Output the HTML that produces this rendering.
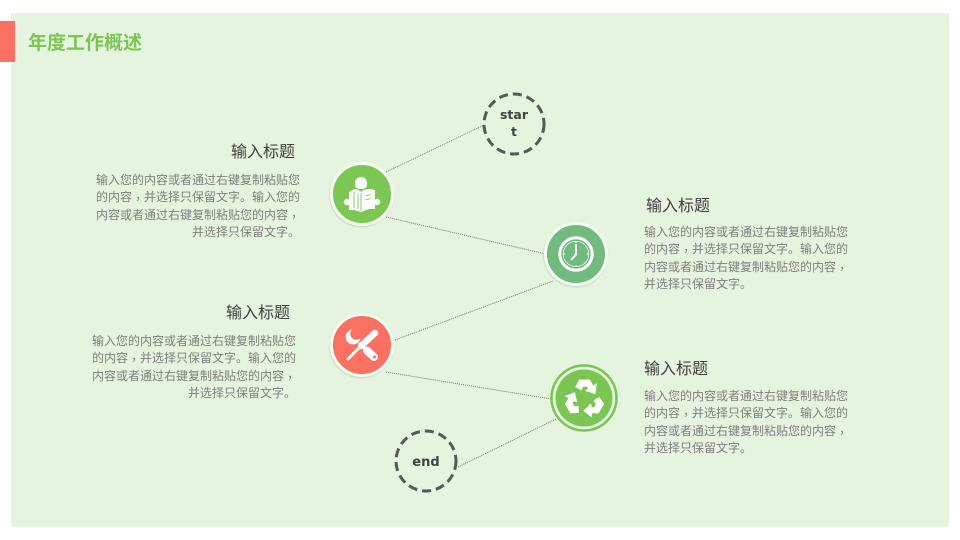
<!DOCTYPE html>
<html>
<head>
<meta charset="utf-8">
<style>
html,body{margin:0;padding:0;background:#fff}
#s{position:relative;width:960px;height:540px;overflow:hidden;background:#fff;font-family:"Liberation Sans","Noto Sans CJK SC","WenQuanYi Zen Hei",sans-serif}
.p{position:absolute;left:11px;top:13px;width:938px;height:514px;background:#e5f4de}
.b{position:absolute;left:0;top:21px;width:15px;height:41px;background:#f87163}
.t{position:absolute;left:28px;top:30px;font-size:19px;line-height:28px;font-weight:bold;color:#7bc653;white-space:nowrap}
.h{position:absolute;font-size:16px;line-height:20px;color:#404040;white-space:nowrap}
.d{position:absolute;width:210px;font-size:12px;line-height:17.4px;color:#7f7f7f;white-space:nowrap}
.d i{font-style:normal;font-family:"Noto Sans CJK TC",sans-serif;position:relative;top:2px;line-height:0}
.r{text-align:right}
svg{position:absolute;left:0;top:0}
</style>
</head>
<body>
<div id="s">
<div class="p"></div>
<div class="b"></div>
<div class="t">年度工作概述</div>

<svg width="960" height="540" viewBox="0 0 960 540">
<defs>
<filter id="sh" x="-20%" y="-20%" width="140%" height="140%"><feDropShadow dx="-0.5" dy="1" stdDeviation="0.8" flood-color="#000" flood-opacity="0.15"/></filter>
<path id="ra" d="M-8.500 -11L-5 -18L5 -18L8 -12.500L11.500 -14.500L10 -4.500L0.500 -7.500L3.500 -9.500L2 -11.500L-1 -11.500L-3 -8Z"/>
</defs>
<g stroke="#6f7f6a" stroke-width="1" stroke-dasharray="1 1" fill="none">
<line x1="386" y1="172" x2="484" y2="125"/>
<line x1="386" y1="217" x2="546" y2="254"/>
<line x1="395" y1="340" x2="553" y2="281"/>
<line x1="386" y1="372" x2="551" y2="399"/>
<line x1="458" y1="467" x2="556" y2="419"/>
</g>

<circle cx="514" cy="124" r="30" fill="none" stroke="#555a55" stroke-width="3" stroke-dasharray="9 5"/>
<circle cx="426" cy="461" r="30" fill="none" stroke="#555a55" stroke-width="3" stroke-dasharray="9 5"/>
<text x="514" y="119" text-anchor="middle" font-family="'DejaVu Sans',sans-serif" font-size="12.500" font-weight="bold" fill="#3f4440">star</text>
<text x="514" y="136" text-anchor="middle" font-family="'DejaVu Sans',sans-serif" font-size="12.500" font-weight="bold" fill="#3f4440">t</text>
<text x="426" y="466" text-anchor="middle" font-family="'DejaVu Sans',sans-serif" font-size="13" font-weight="bold" fill="#3f4440">end</text>

<circle cx="362" cy="194" r="30.500" fill="#7bc653" stroke="#f4fbf0" stroke-width="3" filter="url(#sh)"/>
<g fill="#fff">
<path d="M355 183c0-4 3-6 6-6s6 2 6 6v3c-1 2-3 3-6 3s-5-1-6-3z"/>
<path d="M349 192l5-3c3 0 5 1 7 3 2-2 6-4 14-2v19l-6 0-8 3-7-2-5 0z"/>
<circle cx="347" cy="202" r="3.200"/>
<circle cx="377" cy="202" r="3.200"/>
</g>
<g stroke="#7bc653" stroke-width="0.900" fill="none">
<path d="M361 193v18M354 192v16M358 194v15"/>
<path d="M365 196l6-1.500M365 200l6-1.500"/>
</g>

<circle cx="576" cy="254" r="30.500" fill="#72bb80" stroke="#f4fbf0" stroke-width="3" filter="url(#sh)"/>
<circle cx="576" cy="254" r="16.200" fill="none" stroke="#fff" stroke-width="3"/>
<circle cx="576" cy="254" r="12.800" fill="none" stroke="#fff" stroke-width="0.700"/>
<path d="M576 245v9.500l-4.300 4.800" fill="none" stroke="#fff" stroke-width="2" stroke-linecap="round" stroke-linejoin="round"/>
<path d="M576 241v2M576 265v2M563 254h2M587 254h2" stroke="#fff" stroke-width="1.200"/>

<circle cx="362" cy="345" r="30.500" fill="#f87163" stroke="#f4fbf0" stroke-width="3" filter="url(#sh)"/>
<path d="M348 359L362 345" stroke="#fff" stroke-width="2.800" stroke-linecap="round"/>
<path d="M361 346L375 333" stroke="#fff" stroke-width="6.500" stroke-linecap="round"/>
<path d="M359 343L368 351" stroke="#fff" stroke-width="2.800"/>
<path d="M367 350.500L374 357" stroke="#fff" stroke-width="8" stroke-linecap="round"/>
<circle cx="374.500" cy="357" r="1.500" fill="#f87163"/>
<path d="M352 329.500A7.500 7.500 0 1 0 360.500 338A5.500 5.500 0 0 1 352 329.500Z" fill="#fff"/>

<circle cx="584" cy="398" r="32.500" fill="none" stroke="#7bc653" stroke-width="2.500"/>
<circle cx="584" cy="398" r="28.500" fill="#7bc653"/>
<g fill="#fff" transform="translate(584.500 399) scale(1.080)">
<use href="#ra"/>
<use href="#ra" transform="rotate(120)"/>
<use href="#ra" transform="rotate(240)"/>
</g>
</svg>

<div class="h" style="left:231px;top:143px">输入标题</div>
<div class="d r" style="left:90px;top:172px">输入您的内容或者通过右键复制粘贴您<br>的内容<i>，</i>并选择只保留文字。输入您的<br>内容或者通过右键复制粘贴您的内容<i>，</i><br>并选择只保留文字。</div>

<div class="h" style="left:646px;top:197px">输入标题</div>
<div class="d" style="left:644px;top:224px">输入您的内容或者通过右键复制粘贴您<br>的内容<i>，</i>并选择只保留文字。输入您的<br>内容或者通过右键复制粘贴您的内容<i>，</i><br>并选择只保留文字。</div>

<div class="h" style="left:226px;top:304px">输入标题</div>
<div class="d r" style="left:86px;top:333px">输入您的内容或者通过右键复制粘贴您<br>的内容<i>，</i>并选择只保留文字。输入您的<br>内容或者通过右键复制粘贴您的内容<i>，</i><br>并选择只保留文字。</div>

<div class="h" style="left:644px;top:360px">输入标题</div>
<div class="d" style="left:644px;top:388px">输入您的内容或者通过右键复制粘贴您<br>的内容<i>，</i>并选择只保留文字。输入您的<br>内容或者通过右键复制粘贴您的内容<i>，</i><br>并选择只保留文字。</div>
</div>
</body>
</html>
